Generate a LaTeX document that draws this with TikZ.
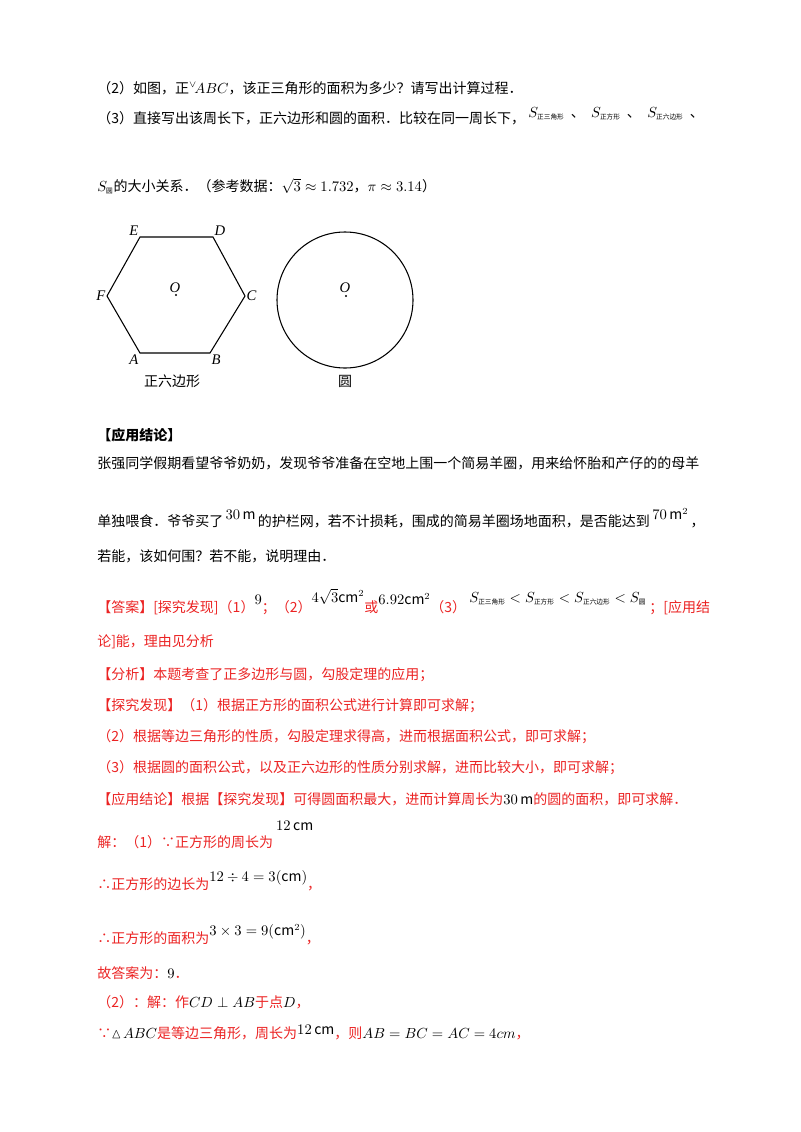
\documentclass[tikz,border=0pt]{standalone}
\usepackage{amsmath,amssymb}
\usepackage{fontspec}
\setmainfont{Noto Sans CJK SC}
\newfontfamily\serifx{Liberation Serif}
\definecolor{ansred}{RGB}{235,35,35}
\newcommand{\sm}[1]{{\fontsize{5}{5}\selectfont #1}}
\begin{document}
\begin{tikzpicture}[x=0.75pt,y=-0.75pt,
  tl/.style={anchor=west,inner sep=0pt,font=\fontsize{10.5}{12}\selectfont},
  rd/.style={tl,text=ansred},
  lab/.style={inner sep=1pt,font=\itshape\serifx\fontsize{11}{12}\selectfont}]
\useasboundingbox (0,0) rectangle (800,1132);
\node[tl] (l1) at (97,88) {（2）如图，正$^{\vee}\!ABC$，该正三角形的面积为多少？请写出计算过程．};
\node[tl] (l2) at (97,118) {（3）直接写出该周长下，正六边形和圆的面积．比较在同一周长下，};
\node[tl] (s1) at (528,114) {$S_{\text{\sm{正三角形}}}$\ \ 、\ \ $S_{\text{\sm{正方形}}}$\ \ 、\ \ $S_{\text{\sm{正六边形}}}$\ \ 、};
\node[tl] (l3) at (97,186) {$S_{\text{\sm{圆}}}$的大小关系．（参考数据：$\sqrt3\approx1.732$，$\pi\approx3.14$）};
% hexagon
\coordinate (A) at (140,353); \coordinate (B) at (210,353); \coordinate (C) at (245,296);
\coordinate (D) at (213,237); \coordinate (E) at (140,237); \coordinate (F) at (107,296);
\draw[line width=0.8pt] (A)--(B)--(C)--(D)--(E)--(F)--cycle;
\node[lab,below left] at (A) {A}; \node[lab,below right] at (B) {B};
\node[lab,right] at (C) {C}; \node[lab,above right] at (D) {D};
\node[lab,above left] at (E) {E}; \node[lab,left] at (F) {F};
\fill (176,295) circle (1.2); \node[lab] at (175,288) {O};
\node[tl,anchor=center] (hx) at (172,381) {正六边形};
\node[draw,circle,line width=0.8pt,minimum size=136*0.75pt,inner sep=0pt] (circ) at (345,300) {};
\fill (346,296) circle (1.2); \node[lab] at (345,288) {O};
\node[tl,anchor=center] (cl) at (345,381) {圆};
\node[tl,font=\bfseries\fontsize{10.5}{12}\selectfont] (h) at (97,435) {【应用结论】};
\node[tl] (p1) at (97,463) {张强同学假期看望爷爷奶奶，发现爷爷准备在空地上围一个简易羊圈，用来给怀胎和产仔的的母羊};
\node[tl] (p2) at (97,518) {单独喂食．爷爷买了\raisebox{5pt}{\,$30\,\mathrm{m}$\,}的护栏网，若不计损耗，围成的简易羊圈场地面积，是否能达到\raisebox{5pt}{\,$70\,\mathrm{m}^2$\,}，};
\node[tl] (p3) at (97,556) {若能，该如何围？若不能，说明理由．};
\node[rd] (a1) at (97,602) {【答案】[探究发现]（1）\raisebox{6pt}{\color{black}$9$}；（2）\raisebox{8pt}{\color{black}$4\sqrt3\mathrm{cm}^2$}或\raisebox{6pt}{\color{black}$6.92\mathrm{cm}^2$}（3）\ \raisebox{8pt}{\color{black}$S_{\text{\sm{正三角形}}}<S_{\text{\sm{正方形}}}<S_{\text{\sm{正六边形}}}<S_{\text{\sm{圆}}}$}\ ；[应用结};
\node[rd] (a2) at (97,642) {论]能，理由见分析};
\node[rd] (a3) at (97,675) {【分析】本题考查了正多边形与圆，勾股定理的应用；};
\node[rd] (a4) at (97,706) {【探究发现】（1）根据正方形的面积公式进行计算即可求解；};
\node[rd] (a5) at (97,737) {（2）根据等边三角形的性质，勾股定理求得高，进而根据面积公式，即可求解；};
\node[rd] (a6) at (97,768) {（3）根据圆的面积公式，以及正六边形的性质分别求解，进而比较大小，即可求解；};
\node[rd] (a7) at (97,799) {【应用结论】根据【探究发现】可得圆面积最大，进而计算周长为{\color{black}$30\,\mathrm{m}$}的圆的面积，即可求解．};
\node[rd] (a8) at (97,835) {解：（1）∵正方形的周长为\ \raisebox{13pt}{\color{black}$12\,\mathrm{cm}$}};
\node[rd] (a9) at (97,881) {∴正方形的边长为\raisebox{6pt}{\color{black}$12\div4=3(\mathrm{cm})$}，};
\node[rd] (a10) at (97,935) {∴正方形的面积为\raisebox{6pt}{\color{black}$3\times3=9(\mathrm{cm}^2)$}，};
\node[rd] (a11) at (97,973) {故答案为：{\color{black}$9$}．};
\node[rd] (a12) at (97,1002) {（2）：解：作{\color{black}$CD\perp AB$}于点{\color{black}$D$}，};
\node[rd] (a13) at (97,1033) {∵{\color{black}$\vartriangle\!ABC$}是等边三角形，周长为{\color{black}\raisebox{3pt}{$12\,\mathrm{cm}$}}，则{\color{black}$AB=BC=AC=4cm$}，};
\end{tikzpicture}
\end{document}
